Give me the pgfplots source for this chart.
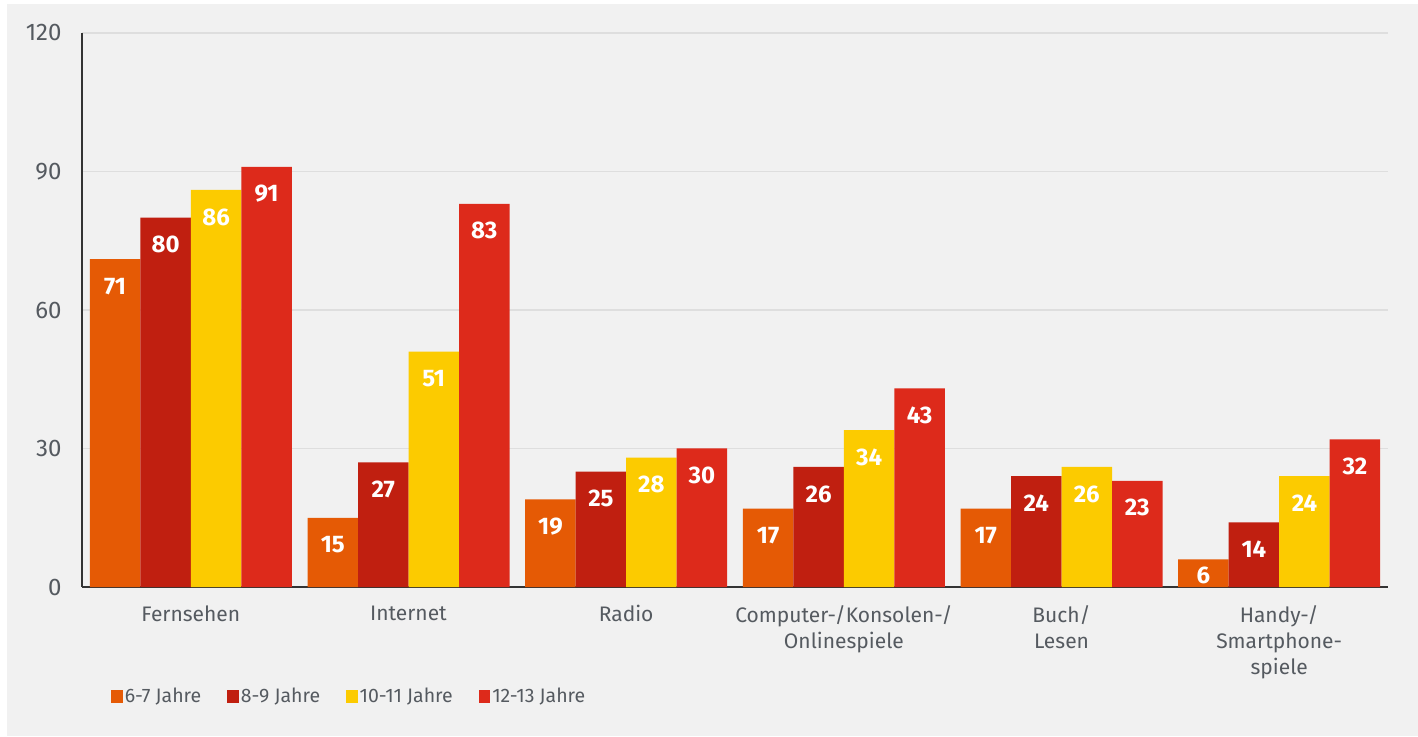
\documentclass[border=0pt]{standalone}
\usepackage{pgfplots}
\pgfplotsset{compat=1.18}
\usepackage{fontspec}
\setmainfont{Fira Sans}
\definecolor{cA}{HTML}{E55A05}
\definecolor{cB}{HTML}{C01F10}
\definecolor{cC}{HTML}{FCCB00}
\definecolor{cD}{HTML}{DD2A1B}
\definecolor{bg}{HTML}{F1F1F1}
\definecolor{txt}{HTML}{555A60}
\begin{document}
\begin{tikzpicture}[x=1pt,y=1pt]
\useasboundingbox (0,0) rectangle (1418,736);
\fill[white] (0,0) rectangle (1418,736);
\fill[bg] (7,0) rectangle (1418,732);
\begin{axis}[
  at={(82pt,149pt)}, anchor=south west,
  scale only axis, width=1306pt, height=554pt,
  ybar=0pt, bar width=50.5pt,
  xmin=-0.5, xmax=5.5, ymin=0, ymax=120,
  xtick=data,
  xticklabels={Fernsehen,Internet,Radio,{Computer-/Konsolen-/\\Onlinespiele},{Buch/\\Lesen},{Handy-/\\Smartphone-\\spiele}},
  ytick={0,30,60,90,120},
  axis x line*=bottom, axis y line*=left,
  axis line style={draw=black!80, line width=1.5pt},
  x axis line style={-}, y axis line style={-},
  major tick length=0pt,
  ymajorgrids, grid style={draw=black!13, line width=1.5pt},
  tick label style={text=txt},
  xticklabel style={font=\fontsize{21}{26}\selectfont, align=center, yshift=-15pt},
  yticklabel style={font=\fontsize{24}{26}\selectfont, xshift=-17pt},
  /pgf/number format/assume math mode=true,
  clip=false,
  every axis plot/.append style={draw=none},
  visualization depends on=y \as \rawy,
  nodes near coords,
  nodes near coords style={font=\fontsize{24}{24}\selectfont\bfseries, text=white, anchor=center,
    yshift={-min(27,2.67*\rawy)*1pt}},
  legend style={at={(0.02,-0.197)}, anchor=west, draw=none, fill=none,
    font=\fontsize{19.5}{20}\selectfont, text=txt, legend columns=4,
    /tikz/every even column/.append style={column sep=24pt}},
  legend image code/.code={\fill[#1] (0pt,-6.5pt) rectangle (11.5pt,6.5pt);},
]
\addplot[fill=cA] coordinates {(0,71) (1,15) (2,19) (3,17) (4,17) (5,6)};
\addplot[fill=cB] coordinates {(0,80) (1,27) (2,25) (3,26) (4,24) (5,14)};
\addplot[fill=cC] coordinates {(0,86) (1,51) (2,28) (3,34) (4,26) (5,24)};
\addplot[fill=cD] coordinates {(0,91) (1,83) (2,30) (3,43) (4,23) (5,32)};
\legend{6-7 Jahre,8-9 Jahre,10-11 Jahre,12-13 Jahre}
\end{axis}
\end{tikzpicture}
\end{document}
